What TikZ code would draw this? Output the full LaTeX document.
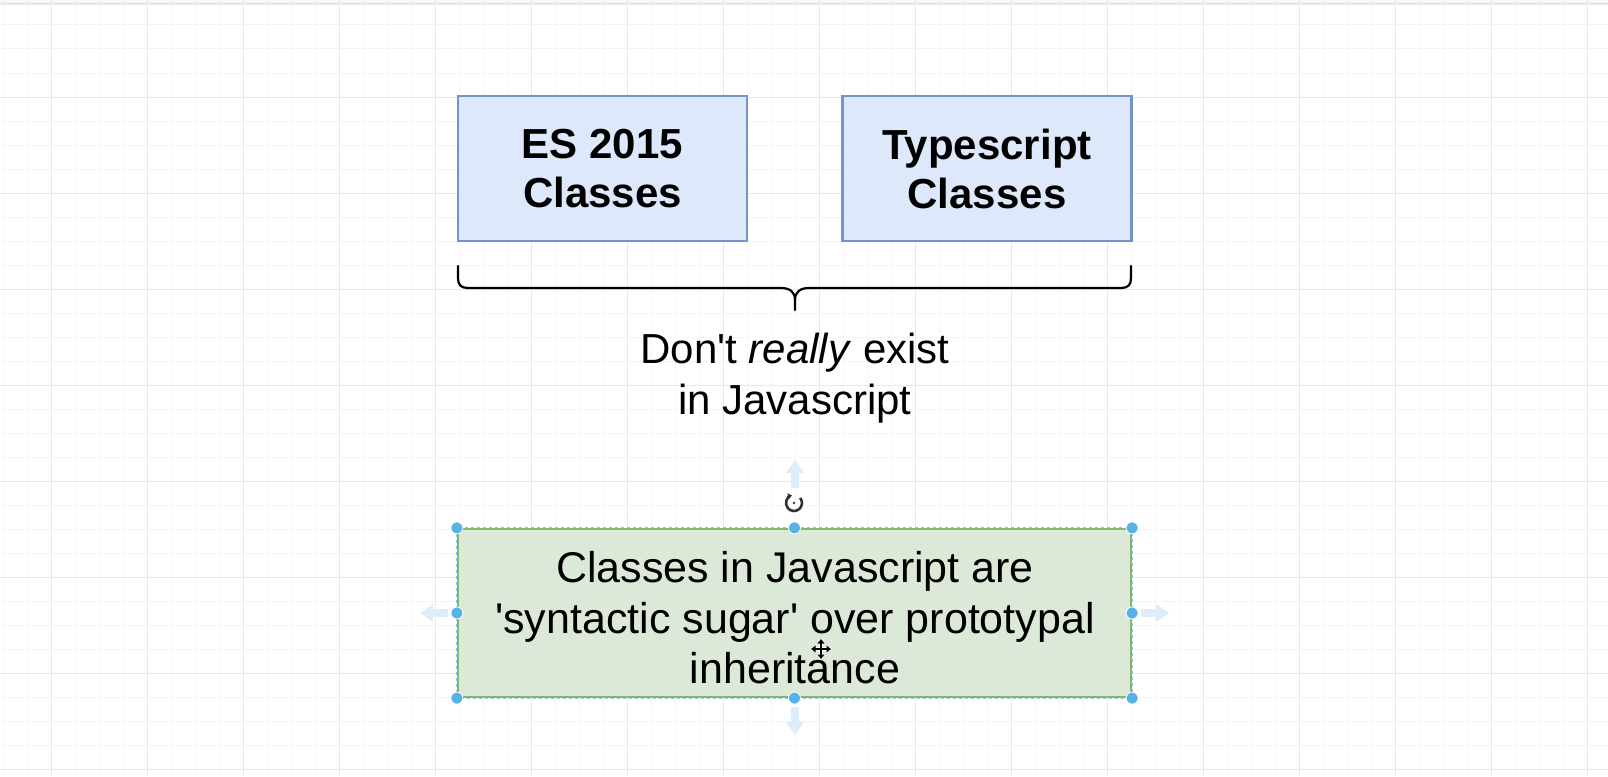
\documentclass[tikz,border=0pt]{standalone}
\usepackage{fontspec}
\setmainfont{Liberation Sans}
\usetikzlibrary{arrows.meta}

\definecolor{gridminor}{HTML}{F5F5F5}
\definecolor{gridmajor}{HTML}{E9E9E9}
\definecolor{bluefill}{HTML}{DDE9FA}
\definecolor{blueline}{HTML}{7394C4}
\definecolor{greenfill}{HTML}{DDE9D8}
\definecolor{greenline}{HTML}{86B56C}
\definecolor{handleblue}{HTML}{58B2E8}
\definecolor{handlearrow}{HTML}{DCEDFB}
\definecolor{icongray}{HTML}{333333}

\tikzset{
  classbox/.style={draw=blueline, fill=bluefill, line width=2.2pt,
    minimum width=289pt, minimum height=145pt, inner sep=0pt,
    align=center, font=\fontsize{42}{49}\selectfont\bfseries},
  notebox/.style={draw=greenline, fill=greenfill, line width=2.2pt,
    minimum width=673pt, minimum height=168pt, inner sep=0pt,
    align=center},
  plaintext/.style={align=center, inner sep=0pt},
  bracepath/.style={draw=black, line width=2.2pt, line cap=round, line join=round},
  handle/.style={fill=handleblue, draw=white, line width=0.8pt},
}

% light "connect" arrow drawn around a handle, pointing along +x before rotation
\newcommand\connectarrow[2]{%
  \begin{scope}[shift={#1}, rotate=#2]
    \fill[handlearrow] (0,-3.8) -- (15,-3.8) -- (15,-9) -- (28,0) -- (15,9) -- (15,3.8) -- (0,3.8) -- cycle;
  \end{scope}}

\begin{document}
\begin{tikzpicture}[x=1pt, y=-1pt]
  \useasboundingbox (0,0) rectangle (1608,776);
  \fill[white] (0,0) rectangle (1608,776);

  % background grid
  \foreach \i in {0,...,66} \draw[gridminor, line width=1pt] ({3+24*\i},0) -- ({3+24*\i},776);
  \foreach \i in {0,...,32} \draw[gridminor, line width=1pt] (0,{1+24*\i}) -- (1608,{1+24*\i});
  \foreach \i in {0,...,16} \draw[gridmajor, line width=1pt] ({51+96*\i},0) -- ({51+96*\i},776);
  \foreach \i in {1,...,8} \draw[gridmajor, line width=1pt] (0,{1+96*\i}) -- (1608,{1+96*\i});
  \fill[gridmajor] (0,2.5) rectangle (1608,5.5);

  % the two class boxes
  \node[classbox] (es) at (602.5,168.5) {ES 2015\\Classes};
  \node[classbox] (ts) at (987,168.5) {Typescript\\Classes};

  % curly brace under both boxes
  \coordinate (bl) at (458,266);
  \coordinate (br) at (1131,266);
  \coordinate (bm) at (795,310);
  \draw[bracepath] (bl) -- (458,278) .. controls (458,285) and (461,288) .. (468,288)
    -- (781,288) .. controls (790,288) and (795,292) .. (795,300) -- (bm);
  \draw[bracepath] (br) -- (1131,278) .. controls (1131,285) and (1128,288) .. (1121,288)
    -- (809,288) .. controls (800,288) and (795,292) .. (795,300);

  % caption under the brace
  \node[plaintext, font=\fontsize{42}{51}\selectfont] (cap) at (795,378)
    {Don\textquotesingle t \textit{really} exist\\in Javascript};

  % selected note box
  \node[notebox] (note) at (794.5,613) {};
  \draw[handleblue!70, line width=0.9pt, dash pattern=on 3pt off 3pt]
    (note.north west) rectangle (note.south east);
  \node[plaintext, font=\fontsize{43}{50.5}\selectfont] (notetext) at (795,618)
    {Classes in Javascript are\\\textquotesingle syntactic sugar\textquotesingle{} over prototypal\\inheritance};

  % selection handles
  \foreach \a in {north west, north, north east, west, east, south west, south, south east}
    \path[handle] (note.\a) circle[radius=6];

  % connect arrows around the selection
  \connectarrow{(795,488)}{90}
  \connectarrow{(795,707)}{-90}
  \connectarrow{(448,613)}{180}
  \connectarrow{(1141,613)}{0}

  % rotate icon
  \draw[icongray, line width=2.6pt, -{Triangle[length=4pt, width=6pt]}]
    (794,503) ++(-40:8) arc[start angle=-40, end angle=255, radius=8];
  \fill[icongray] (794,503) circle[radius=1.3];

  % move cursor
  \begin{scope}[shift={(821,649)}]
    \draw[white, line width=4pt] (-10,0) -- (10,0) (0,-10) -- (0,10);
    \draw[black, line width=1.8pt, {Triangle[length=4.5pt, width=6.5pt]}-{Triangle[length=4.5pt, width=6.5pt]}] (-10,0) -- (10,0);
    \draw[black, line width=1.8pt, {Triangle[length=4.5pt, width=6.5pt]}-{Triangle[length=4.5pt, width=6.5pt]}] (0,-10) -- (0,10);
  \end{scope}
\end{tikzpicture}
\end{document}
